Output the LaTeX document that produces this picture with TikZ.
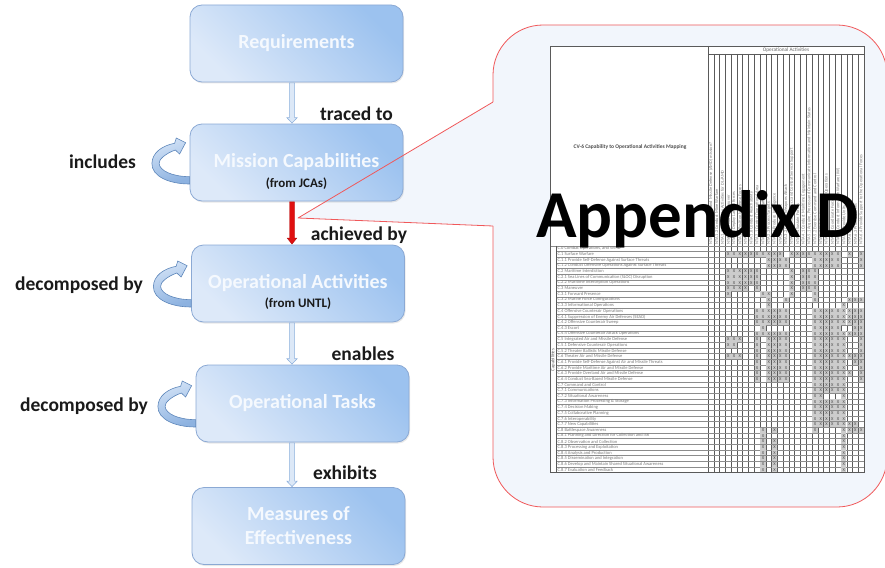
\documentclass[tikz,border=0pt]{standalone}
\usepackage{fontspec}
\setmainfont{Carlito}
\usetikzlibrary{calc,shadows}
\definecolor{boxlight}{HTML}{DDE9F9}
\definecolor{boxdark}{HTML}{9CC2EF}
\definecolor{boxline}{HTML}{8BA9D4}
\definecolor{arrline}{HTML}{8FB1DC}
\definecolor{arrfill}{HTML}{DCE8F7}
\definecolor{redarr}{HTML}{E01010}
\definecolor{calloutline}{HTML}{F0585A}
\definecolor{calloutfill}{HTML}{F2F6FC}
\definecolor{loopline}{HTML}{5D86BA}
\definecolor{looplight}{HTML}{D2E2F6}
\definecolor{loopdark}{HTML}{8DB2E0}
\definecolor{txtdark}{HTML}{1A1A1A}
\definecolor{boxtext}{HTML}{F5F9FE}
\definecolor{gridv}{HTML}{5A5A5A}
\definecolor{gridh}{HTML}{8C8C8C}
\definecolor{xfill}{HTML}{CCCCCC}
\definecolor{mtxt}{HTML}{7A7A7A}
\begin{document}
\begin{tikzpicture}[x=1pt,y=-1pt,
  box/.style={draw=boxline, line width=0.8pt, rounded corners=12pt,
    top color=boxdark, bottom color=boxlight, shading angle=-45,
    minimum width=213pt, minimum height=77pt, inner sep=0pt,
    text=boxtext, font=\fontsize{20}{24}\selectfont\bfseries, align=center,
    drop shadow={shadow xshift=1pt, shadow yshift=-1.5pt, opacity=0.18}},
  subtxt/.style={font=\fontsize{13}{15}\selectfont\bfseries, text=txtdark, inner sep=0pt},
  lbl/.style={font=\fontsize{19.5}{22}\selectfont\bfseries, text=txtdark, inner sep=0pt},
  barrow/.style={fill=arrfill, draw=arrline, line width=0.6pt, line join=miter},
  rarrow/.style={fill=redarr, draw=redarr!80!black, line width=0.4pt},
  loopsty/.style={top color=looplight, bottom color=loopdark, shading angle=20,
    draw=loopline, line width=0.6pt},
  calloutfillsty/.style={fill=calloutfill},
  calloutline/.style={draw=calloutline, line width=0.8pt, line join=round},
  gridvline/.style={draw=gridv, line width=0.45pt},
  gridhline/.style={draw=gridh, line width=0.35pt},
  rowtxt/.style={font=\fontsize{4.5}{5}\selectfont, text=mtxt, inner sep=0pt, anchor=west},
  colhead/.style={font=\fontsize{4.4}{5}\selectfont, text=mtxt, inner sep=0pt, anchor=west, rotate=90},
  xtxt/.style={font=\fontsize{4.5}{5}\selectfont, text=black!70, inner sep=0pt},
  loopy/.pic={
    \path[loopsty] (0,21.5) .. controls (-20,21.5) and (-38,14) .. (-37.7,1)
      .. controls (-37.5,-10) and (-27,-17) .. (-15,-19.2)
      -- (-13.3,-24.5) -- (-4,-19.8) -- (-10,-8.5) -- (-14.3,-12.5)
      .. controls (-24,-9) and (-31,-3) .. (-30.5,1)
      .. controls (-30,8) and (-18,14) .. (0,14.2) -- cycle;
  }]
\useasboundingbox (0,0) rectangle (885,567);

% ---------------- callout (fill and outer outline) ----------------
\path[calloutfillsty] (298,218) -- (493,102) -- (493,75)
  arc[start angle=180, end angle=90, radius=50pt] -- (837,25)
  arc[start angle=90, end angle=0, radius=50pt] -- (887,457)
  arc[start angle=0, end angle=-90, radius=50pt] -- (543,507)
  arc[start angle=270, end angle=180, radius=50pt] -- (493,226) -- cycle;
\path[calloutline] (493,102) -- (493,75)
  arc[start angle=180, end angle=90, radius=50pt] -- (837,25)
  arc[start angle=90, end angle=0, radius=50pt] -- (887,457)
  arc[start angle=0, end angle=-90, radius=50pt] -- (543,507)
  arc[start angle=270, end angle=180, radius=50pt] -- (493,226);

% ---------------- matrix ----------------
\fill[white] (550,46) rectangle (864,472.6);
\node[font=\fontsize{5.5}{6}\selectfont\bfseries, text=black!70, inner sep=0pt] (mtitle) at (630,147)
  {CV-6 Capability to Operational Activities Mapping};
\node[font=\fontsize{5.3}{6}\selectfont, text=black!60, inner sep=0pt] (mhead) at (786,50)
  {Operational Activities};
\draw[gridvline] (708,54) -- (864,54);
\foreach \k in {0,...,27} \draw[gridvline] (708+5.78*\k,54) -- (708+5.78*\k,472.6);
\draw[gridvline] (708,46) -- (708,54);
\foreach \i in {0,...,40} \draw[gridhline] (556,245.8+5.67*\i) -- (864,245.8+5.67*\i);
\draw[gridhline] (550,245.8) -- (556,245.8);
\draw[gridvline] (556,245.8) -- (556,472.6);
\node[font=\fontsize{4.8}{5}\selectfont, text=black!60, rotate=90, inner sep=0pt] (mcap) at (553,360) {Capabilities};

\foreach \r/\cl in {
  1/{3,4,5,6,7,8,9,10,11,12,14,15,16,17,18,19,20,21,22,24,26},
  2/{10,11,12,13,18,19,20,21,22,26},
  3/{10,11,12,13,18,19,20,21,22,26},
  4/{3,4,5,6,7,8,14,16,17,18},
  5/{3,4,5,6,7,8,14,16,17,18},
  6/{3,4,5,6,7,8,14,16,17,18},
  7/{3,4,5,6,8,14,16,17,18},
  8/{3,9,10,14,18},
  9/{10,13,18,24,25,26},
  10/{10,23},
  11/{8,9,10,11,12,13,18,19,20,21,22,23,24,25,26},
  12/{8,9,10,11,12,13,18,19,20,21,22,23,24,25,26},
  13/{8,9,10,11,12,13,18,19,20,21,22,23,24,25,26},
  14/{9,18,19,20,21,22,25,26},
  15/{8,9,10,11,12,13,18,19,20,21,22,23,24,25,26},
  16/{3,4,5,8,10,11,12,13,18,19,20,21,22,23,26},
  17/{3,4,8,10,11,12,13,18,19,20,21,22,23,26},
  18/{8,10,11,12,13,18,19,20,21,22,23,26},
  19/{3,4,5,8,10,11,12,13,18,19,20,21,22,23,24,25,26},
  20/{8,10,11,12,13,18,19,20,21,22,23,25,26},
  21/{8,10,11,12,13,18,19,20,21,22,23,26},
  22/{8,10,11,12,13,18,19,20,21,22,23,24,26},
  23/{8,10,11,12,13,18,19,20,21,22,23,26},
  24/{18,19,20,21,22,23},
  25/{18,19,20,21,22,23},
  26/{18,19,23},
  27/{18,19,20,21,22,23},
  28/{18,19,20,21,22,23},
  29/{18,19,20,21,22,23},
  30/{18,19,20,21,22,23},
  31/{18,19,20,21,22,23,24,25},
  32/{9,11,18,23,24,25,26},
  33/{9,23},
  34/{9,11,23},
  35/{9,11,23},
  36/{9,11,23},
  37/{9,11,23},
  38/{9,11,23},
  39/{9,11,23}} {
  \foreach \c in \cl {
    \fill[xfill] (708.3+5.78*\c,246.1+5.67*\r) rectangle ++(5.2,5.1);
    \node[xtxt] at (708+5.78*\c+2.89,245.8+5.67*\r+2.9) {X};
  }
}

\foreach \i/\t in {
  0/{C.0 Combat Operations, and WMD},
  1/{C.1 Surface Warfare},
  2/{C.1.1 Provide Self-Defense Against Surface Threats},
  3/{C.1.2 Conduct Offensive Operations Against Surface Threats},
  4/{C.2 Maritime Interdiction},
  5/{C.2.1 Sea Lines of Communication (SLOC) Disruption},
  6/{C.2.2 Maritime Interception Operations},
  7/{C.3 Maneuver},
  8/{C.3.1 Forward Presence},
  9/{C.3.2 Marine Force Configurations},
  10/{C.3.3 Informational Operations},
  11/{C.4 Offensive Counterair Operations},
  12/{C.4.1 Suppression of Enemy Air Defenses (SEAD)},
  13/{C.4.2 Offensive Counterair Sweep},
  14/{C.4.3 Escort},
  15/{C.4.4 Offensive Counterair Attack Operations},
  16/{C.5 Integrated Air and Missile Defense},
  17/{C.5.1 Defensive Counterair Operations},
  18/{C.5.2 Theater Ballistic Missile Defense},
  19/{C.6 Theater Air and Missile Defense},
  20/{C.6.1 Provide Self-Defense Against Air and Missile Threats},
  21/{C.6.2 Provide Maritime Air and Missile Defense},
  22/{C.6.3 Provide Overland Air and Missile Defense},
  23/{C.6.4 Conduct Sea-Based Missile Defense},
  24/{C.7 Command and Control},
  25/{C.7.1 Communications},
  26/{C.7.2 Situational Awareness},
  27/{C.7.3 Information Processing \& Storage},
  28/{C.7.4 Decision Making},
  29/{C.7.5 Collaborative Planning},
  30/{C.7.6 Interoperability},
  31/{C.7.7 New Capabilities},
  32/{C.8 Battlespace Awareness},
  33/{C.8.1 Planning and Direction for Collection and ISR},
  34/{C.8.2 Observation and Collection},
  35/{C.8.3 Processing and Exploitation},
  36/{C.8.4 Analysis and Production},
  37/{C.8.5 Dissemination and Integration},
  38/{C.8.6 Develop and Maintain Shared Situational Awareness},
  39/{C.8.7 Evaluation and Feedback}} {
  \node[rowtxt] at (557.5,245.8+5.67*\i+2.9) {\t};
}

\foreach \k/\t in {
  0/{NTA 1.1 Conduct Air and Missile Defense (AMD) mission?},
  1/{NTA 1.2 Conduct Mine Warfare},
  2/{NTA 1.3 Coordinate Activities for DL/AMD},
  3/{NTA 1.4 Conduct Maneuver},
  4/{NTA 1.5 Deploy Lateral Forces},
  5/{NTA 1.6 Position Maritime Forces},
  6/{NTA 1.7 Maintain Mobility},
  7/{NTA 1.8 Conduct Reachability},
  8/{NTA 2.1 Control Operational Area},
  9/{NTA 2.2 Collect Information},
  10/{NTA 2.3 Process Targets},
  11/{NTA 2.4 Produce Intelligence},
  12/{NTA 3.1 Conduct Fires},
  13/{NTA 3.2 Conduct Weapons Attack},
  14/{NTA 3.3 Provide Logistics and Combat Service Support},
  15/{NTA 3.4 Sustain Forces},
  16/{NTA 4.1 Conduct Maritime Engagement},
  17/{NTA 5.1 Acquire, Process and Communicate Information and Maintain Status},
  18/{NTA 5.2 Exercise Command and Control},
  19/{NTA 5.3 Stabilization},
  20/{NTA 5.4 Conduct Mines and Operations},
  21/{NTA 5.5 Coordinate Forces},
  22/{NTA 5.6 Conduct Information Warfare (IW)},
  23/{NTA 6.1 Provide Units},
  24/{NTA 6.2 Provide Security},
  25/{NTA 6.3 Protect Forces},
  26/{NTA 6.4 Provide Support to the Operational Forces}} {
  \node[colhead] at (708+5.78*\k+2.89,244.5) {\t};
}
\draw[gridvline, line width=0.6pt] (550,46) rectangle (864,472.6);

\node[font=\fontsize{67}{70}\selectfont\bfseries, anchor=base west, inner sep=0pt] (appx) at (536,237) {Appendix D};

% ---------------- left chain ----------------
\node[box] (req) at (296.5,43.5) {Requirements};
\node[box] (mc)  at (296.5,162.5) {Mission Capabilities};
\node[box] (oa)  at (298,283.5) {Operational Activities};
\node[box] (ot)  at (302.5,403.5) {Operational Tasks};
\node[box, font=\fontsize{20}{24}\selectfont\bfseries] (moe) at (298.5,526) {Measures of\\Effectiveness};

\node[subtxt] (mcsub) at ($(mc.center)+(0,21.5)$) {(from JCAs)};
\node[subtxt] (oasub) at ($(oa.center)+(0,20.5)$) {(from UNTL)};

\coordinate (ax) at (292,0);
\coordinate (a1s) at (req.south -| ax); \coordinate (a1e) at (mc.north -| ax);
\coordinate (a2s) at (mc.south -| ax);  \coordinate (a2e) at (oa.north -| ax);
\coordinate (a3s) at (oa.south -| ax);  \coordinate (a3e) at (ot.north -| ax);
\coordinate (a4s) at (ot.south -| ax);  \coordinate (a4e) at (moe.north -| ax);

\foreach \s/\e in {a1s/a1e, a3s/a3e, a4s/a4e} {
  \path[barrow] ($(\s)+(-2.6,0.5)$) -- ($(\e)+(-2.6,-6)$) -- ($(\e)+(-5.2,-6)$) -- ($(\e)+(0,-0.5)$)
    -- ($(\e)+(5.2,-6)$) -- ($(\e)+(2.6,-6)$) -- ($(\s)+(2.6,0.5)$) -- cycle;
}
\path[rarrow] ($(a2s)+(-2.5,0.5)$) -- ($(a2e)+(-2.5,-6.5)$) -- ($(a2e)+(-4.8,-6.5)$) -- ($(a2e)+(0,-0.5)$)
  -- ($(a2e)+(4.8,-6.5)$) -- ($(a2e)+(2.5,-6.5)$) -- ($(a2s)+(2.5,0.5)$) -- cycle;

% callout pointer lines drawn over the boxes
\coordinate (ctip) at (298,218);
\coordinate (cup) at (493,102);
\coordinate (clow) at (493,226);
\draw[calloutline] (cup) -- (ctip) -- (clow);

\pic (l1) at (mc.west) {loopy};
\pic (l2) at ($(oa.west)+(0,2)$) {loopy};
\pic (l3) at ($(ot.west)+(0,2)$) {loopy};

\node[lbl] (ltraced) at (356.5,114) {traced to};
\node[lbl] (lach) at (359,235) {achieved by};
\node[lbl] (lena) at (363,354) {enables};
\node[lbl] (lexh) at (345,473) {exhibits};
\node[lbl] (linc) at (102.5,162) {includes};
\node[lbl] (ldec1) at (79,285) {decomposed by};
\node[lbl] (ldec2) at (84,406) {decomposed by};
\end{tikzpicture}
\end{document}
